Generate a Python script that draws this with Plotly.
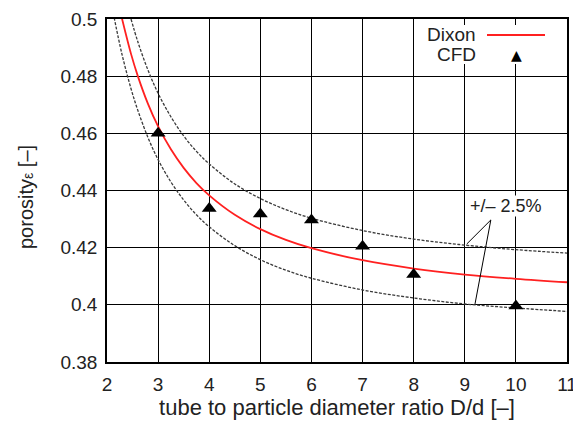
import plotly.graph_objects as go

# Dixon correlation curve
dixon_x = [2.29, 2.47, 2.6, 2.8, 3.0, 3.25, 3.5, 3.75, 4.0, 4.5, 5.0, 5.5, 6.0, 7.0, 8.0, 9.0, 10.0, 11.0]
dixon_y = [0.5004, 0.4878, 0.4802, 0.4704, 0.4624, 0.4544, 0.4479, 0.4426, 0.4383, 0.4315, 0.4265,
           0.4227, 0.4198, 0.4156, 0.4127, 0.4106, 0.4091, 0.4079]

# +2.5 % band
upper_x = [2.47, 2.6, 2.8, 3.0, 3.25, 3.5, 3.75, 4.0, 4.5, 5.0, 5.5, 6.0, 7.0, 8.0, 9.0, 10.0, 11.0]
upper_y = [0.5000, 0.4922, 0.4822, 0.4740, 0.4658, 0.4591, 0.4537, 0.4493, 0.4423, 0.4372, 0.4333,
           0.4303, 0.4260, 0.4230, 0.4209, 0.4193, 0.4181]

# -2.5 % band
lower_x = [2.14, 2.29, 2.47, 2.6, 2.8, 3.0, 3.25, 3.5, 3.75, 4.0, 4.5, 5.0, 5.5, 6.0, 7.0, 8.0, 9.0, 10.0, 11.0]
lower_y = [0.5005, 0.4879, 0.4756, 0.4682, 0.4586, 0.4508, 0.4430, 0.4367, 0.4315, 0.4273, 0.4207,
           0.4158, 0.4121, 0.4093, 0.4052, 0.4024, 0.4003, 0.3989, 0.3977]

# CFD results
cfd_x = [3, 4, 5, 6, 7, 8, 10]
cfd_y = [0.4600, 0.4337, 0.4318, 0.4297, 0.4205, 0.4106, 0.3996]

x_ticks = [2, 3, 4, 5, 6, 7, 8, 9, 10, 11]
y_ticks = [0.38, 0.40, 0.42, 0.44, 0.46, 0.48, 0.50]
y_tick_text = ["0.38", "0.4", "0.42", "0.44", "0.46", "0.48", "0.5"]

FONT = "Liberation Sans, Arial, sans-serif"
TXT = "#222222"
FS = 19

# plot area in page pixels (the page body adds an 8px offset)
PL, PR, PT, PB = 107, 567, 19, 362
OFF = 8
W, H = 581 - OFF, 423 - OFF
PW, PH = PR - PL, PB - PT


def px(x):
    return (x - PL) / PW


def py(y):
    return (PB - y) / PH


fig = go.Figure()
band_style = dict(color="#3a3a3a", width=1.3, dash="3px,1.5px", shape="spline")
fig.add_trace(go.Scatter(x=upper_x, y=upper_y, mode="lines", line=band_style, showlegend=False, hoverinfo="skip"))
fig.add_trace(go.Scatter(x=lower_x, y=lower_y, mode="lines", line=band_style, showlegend=False, hoverinfo="skip"))
fig.add_trace(go.Scatter(x=dixon_x, y=dixon_y, mode="lines", name="Dixon",
                         line=dict(color="#ff2020", width=1.8, shape="spline"), showlegend=False))
fig.add_trace(go.Scatter(x=cfd_x, y=cfd_y, mode="markers", name="CFD",
                         marker=dict(symbol="triangle-up", size=13, color="black"), showlegend=False))

shapes = []
# legend white box
shapes.append(dict(type="rect", xref="paper", yref="paper", x0=px(424), x1=px(546),
                   y0=py(64), y1=py(25), fillcolor="white", line=dict(width=0), layer="above"))
# legend red key
shapes.append(dict(type="line", xref="paper", yref="paper", x0=px(487), x1=px(545),
                   y0=py(35), y1=py(35), line=dict(color="#ff2020", width=1.8), layer="above"))
# +/- 2.5% pointer lines
shapes.append(dict(type="line", x0=9.04, y0=0.4213, x1=9.51, y1=0.4297, line=dict(color="black", width=1)))
shapes.append(dict(type="line", x0=9.51, y0=0.4297, x1=9.20, y1=0.4003, line=dict(color="black", width=1)))

annotations = [
    dict(xref="paper", yref="paper", x=px(478), y=py(34), xanchor="right", yanchor="middle",
         text="Dixon", showarrow=False, font=dict(family=FONT, size=FS, color=TXT)),
    dict(xref="paper", yref="paper", x=px(478), y=py(54), xanchor="right", yanchor="middle",
         text="CFD", showarrow=False, font=dict(family=FONT, size=FS, color=TXT)),
    dict(xref="paper", yref="paper", x=px(516), y=py(55), xanchor="center", yanchor="middle",
         text="▲", showarrow=False, font=dict(family="DejaVu Sans", size=14, color="black")),
    dict(x=9.81, y=0.4346, xanchor="center", yanchor="middle", text="+/– 2.5%", showarrow=False,
         font=dict(family=FONT, size=18, color=TXT), bgcolor="white", borderpad=0),
    dict(xref="paper", yref="paper", x=px(26), y=py(197), xanchor="center", yanchor="middle",
         textangle=-90, text="porosity<span style='font-size:14px'>ε</span> [–]", showarrow=False,
         font=dict(family=FONT, size=20, color=TXT)),
]

fig.update_layout(
    width=W, height=H,
    margin=dict(l=PL - OFF, r=W + OFF - PR, t=PT - OFF, b=H + OFF - PB, autoexpand=False),
    paper_bgcolor="white", plot_bgcolor="white",
    font=dict(family=FONT, size=FS, color=TXT),
    shapes=shapes, annotations=annotations,
    xaxis=dict(range=[2, 11], tickvals=x_ticks, showgrid=True, gridcolor="black", gridwidth=1.3,
               showline=True, linecolor="black", linewidth=1.5, mirror=True, ticks="",
               zeroline=False, tickfont=dict(size=FS, color=TXT), ticklabelstandoff=4,
               title=dict(text="tube to particle diameter ratio D/d [–]", font=dict(size=22, color=TXT), standoff=2)),
    yaxis=dict(range=[0.38, 0.5], tickvals=y_ticks, ticktext=y_tick_text, showgrid=True, gridcolor="black",
               gridwidth=1.3, showline=True, linecolor="black", linewidth=1.5, mirror=True,
               ticks="outside", ticklen=4, tickcolor="rgba(0,0,0,0)",
               zeroline=False, tickfont=dict(size=FS, color=TXT)),
)

fig.write_html("out.html")
